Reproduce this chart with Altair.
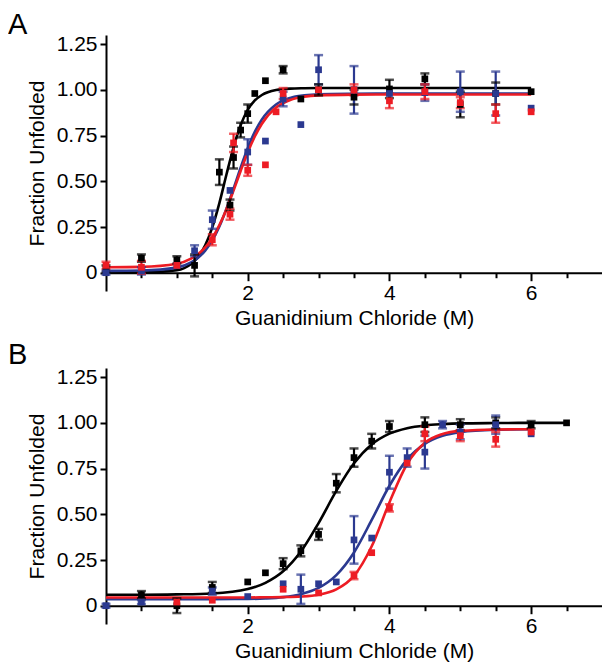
import altair as alt
import pandas as pd

# ---------------- Panel A data ----------------
A_black_x = [0, 0.5, 1.0, 1.25, 1.6, 1.75, 1.8, 1.9, 2.0, 2.1, 2.25, 2.5, 2.75, 3.0, 3.5, 4.0, 4.5, 5.0, 5.5, 6.0]
A_black_y = [0.02, 0.08, 0.07, 0.04, 0.55, 0.37, 0.63, 0.78, 0.87, 0.98, 1.05, 1.11, 0.95, 1.00, 0.96, 1.005, 1.06, 0.92, 0.98, 0.99]
A_black_e = [0.02, 0.02, 0.02, 0.06, 0.07, 0.03, 0.06, 0.04, 0.05, 0, 0, 0.02, 0, 0.03, 0.04, 0.05, 0.03, 0.07, 0.06, 0]

A_blue_x = [0, 0.5, 1.0, 1.25, 1.5, 1.75, 2.0, 2.25, 2.5, 2.75, 3.0, 3.5, 4.0, 4.5, 5.0, 5.5, 6.0]
A_blue_y = [0.00, 0.01, 0.04, 0.12, 0.29, 0.45, 0.66, 0.72, 0.95, 0.81, 1.11, 1.00, 0.98, 0.985, 0.99, 0.98, 0.90]
A_blue_e = [0.01, 0.02, 0, 0.03, 0.05, 0, 0.07, 0, 0.04, 0, 0.08, 0.13, 0, 0.045, 0.11, 0.12, 0]

A_red_x = [0, 0.5, 1.0, 1.5, 1.75, 1.8, 2.0, 2.25, 2.4, 2.5, 3.0, 3.5, 4.0, 4.5, 5.0, 5.5, 6.0]
A_red_y = [0.04, 0.03, 0.04, 0.18, 0.32, 0.71, 0.56, 0.59, 0.88, 0.98, 1.00, 1.00, 0.94, 0.99, 0.93, 0.87, 0.88]
A_red_e = [0.02, 0.035, 0, 0.03, 0.03, 0.05, 0.03, 0, 0, 0.03, 0, 0.03, 0.04, 0.04, 0.03, 0.05, 0]

# fitted curves of panel A
A_fit_x = [0, 0.5, 1.0, 1.2, 1.3, 1.4, 1.5, 1.6, 1.7, 1.8, 1.9, 2.0, 2.1, 2.2, 2.4, 2.6, 2.8, 3.0, 3.5, 4.0, 5.0, 6.0]
A_fit_black = [0.000, 0.001, 0.014, 0.048, 0.086, 0.150, 0.248, 0.381, 0.537, 0.686, 0.806, 0.890, 0.942, 0.972, 0.999, 1.007, 1.009, 1.010, 1.010, 1.010, 1.010, 1.010]
A_fit_blue = [0.010, 0.012, 0.028, 0.056, 0.082, 0.121, 0.177, 0.253, 0.350, 0.460, 0.575, 0.681, 0.770, 0.838, 0.920, 0.956, 0.970, 0.976, 0.979, 0.980, 0.980, 0.980]
A_fit_red = [0.030, 0.032, 0.049, 0.077, 0.102, 0.138, 0.190, 0.260, 0.347, 0.449, 0.556, 0.658, 0.745, 0.815, 0.903, 0.945, 0.963, 0.970, 0.974, 0.975, 0.975, 0.975]

# ---------------- Panel B data ----------------
B_black_x = [0.5, 1.0, 1.5, 2.0, 2.25, 2.5, 2.75, 3.0, 3.25, 3.5, 3.75, 4.0, 4.5, 5.0, 5.5, 6.0, 6.5]
B_black_y = [0.06, 0.00, 0.10, 0.13, 0.18, 0.23, 0.30, 0.39, 0.67, 0.81, 0.90, 0.98, 0.99, 0.99, 1.00, 0.99, 1.00]
B_black_e = [0.02, 0.04, 0.03, 0, 0, 0.03, 0.03, 0.03, 0.05, 0.05, 0.04, 0.03, 0.04, 0.03, 0.03, 0.02, 0]

B_blue_x = [0, 0.5, 1.5, 2.0, 2.5, 2.75, 3.0, 3.25, 3.5, 3.75, 4.0, 4.25, 4.5, 4.75, 5.0, 5.5, 6.0]
B_blue_y = [0.00, 0.02, 0.08, 0.05, 0.12, 0.09, 0.12, 0.13, 0.36, 0.37, 0.73, 0.81, 0.84, 0.99, 0.95, 0.99, 0.94]
B_blue_e = [0.01, 0.01, 0.02, 0, 0, 0.08, 0, 0, 0.13, 0, 0.09, 0.05, 0.09, 0.02, 0.04, 0.05, 0]

B_red_x = [1.0, 1.5, 2.5, 3.0, 3.5, 3.75, 4.0, 4.25, 4.5, 5.0, 5.5, 6.0]
B_red_y = [0.02, 0.03, 0.09, 0.07, 0.165, 0.29, 0.535, 0.78, 0.94, 0.93, 0.91, 0.95]
B_red_e = [0, 0, 0, 0, 0.02, 0, 0.02, 0, 0.04, 0.03, 0.04, 0]

B_fit_x_black = [0, 0.5, 1.0, 1.5, 2.0, 2.25, 2.5, 2.75, 3.0, 3.25, 3.5, 3.75, 4.0, 4.25, 4.5, 4.75, 5.0, 5.5, 6.0, 6.5]
B_fit_black = [0.060, 0.060, 0.062, 0.067, 0.091, 0.125, 0.188, 0.296, 0.452, 0.628, 0.779, 0.882, 0.941, 0.971, 0.986, 0.993, 0.997, 0.999, 1.000, 1.000]
B_fit_x = [0, 0.5, 1.0, 1.5, 2.0, 2.25, 2.5, 2.75, 3.0, 3.25, 3.5, 3.75, 4.0, 4.25, 4.5, 4.75, 5.0, 5.5, 6.0]
B_fit_blue = [0.035, 0.035, 0.035, 0.036, 0.037, 0.040, 0.047, 0.063, 0.097, 0.167, 0.291, 0.469, 0.656, 0.800, 0.885, 0.929, 0.949, 0.962, 0.965]
B_fit_red = [0.045, 0.045, 0.045, 0.045, 0.045, 0.046, 0.047, 0.050, 0.060, 0.089, 0.163, 0.325, 0.565, 0.775, 0.891, 0.939, 0.956, 0.964, 0.965]

SERIES = ["black", "blue", "red"]
COLORS = ["#000000", "#2b3990", "#ed1c24"]

X_TICKS = [0.5 * i for i in range(1, 14)]
Y_TICKS = [0, 0.25, 0.5, 0.75, 1.0, 1.25]

FONT = "Liberation Sans"
W, H = 496, 256
Y_DOM = [-0.1, 1.3]
X_OFFSET = -(H * 0.1 / 1.4)


def points_frame(groups):
    rows = []
    for name, xs, ys, es in groups:
        for x, y, e in zip(xs, ys, es):
            rows.append({"series": name, "x": x, "y": y, "lo": y - e, "hi": y + e, "e": e})
    return pd.DataFrame(rows)


def curve_frame(groups):
    rows = []
    for name, xs, ys in groups:
        for x, y in zip(xs, ys):
            rows.append({"series": name, "x": x, "y": y})
    return pd.DataFrame(rows)


def panel(pts, fits, letter, letter_y):
    xscale = alt.Scale(domain=[0, 7], nice=False, zero=False)
    yscale = alt.Scale(domain=Y_DOM, nice=False, zero=False)
    xaxis = alt.Axis(
        values=X_TICKS,
        labelExpr="datum.value % 2 === 0 ? format(datum.value, 'd') : ''",
        tickSize={"condition": {"test": "datum.value % 2 === 0", "value": 8}, "value": 5},
        offset=X_OFFSET,
        title="Guanidinium Chloride (M)",
        grid=False,
        labelFlush=False,
        labelOverlap=False,
        labelPadding=2,
        titlePadding=4,
    )
    yaxis = alt.Axis(
        values=Y_TICKS,
        labelExpr="datum.value === 0 ? '0' : format(datum.value, '.2f')",
        tickSize=6,
        title="Fraction Unfolded",
        grid=False,
        labelFlush=False,
        labelOverlap=False,
        labelPadding=3,
        titlePadding=9,
    )
    color = alt.Color("series:N", scale=alt.Scale(domain=SERIES, range=COLORS), legend=None)
    X = alt.X("x:Q", scale=xscale, axis=xaxis)
    Y = alt.Y("y:Q", scale=yscale, axis=yaxis)

    curves = alt.Chart(fits).mark_line(strokeWidth=2.6, interpolate="monotone").encode(
        x=X, y=Y, color=color, detail="series:N"
    )
    eb = alt.Chart(pts).transform_filter("datum.e > 0")
    rules = eb.mark_rule(strokeWidth=2.2).encode(
        x=X, y=alt.Y("lo:Q", scale=yscale, axis=yaxis), y2="hi:Q", color=color
    )
    cap_lo = eb.mark_tick(orient="horizontal", size=9, thickness=2.5).encode(
        x=X, y=alt.Y("lo:Q", scale=yscale, axis=yaxis), color=color
    )
    cap_hi = eb.mark_tick(orient="horizontal", size=9, thickness=2.5).encode(
        x=X, y=alt.Y("hi:Q", scale=yscale, axis=yaxis), color=color
    )
    squares = alt.Chart(pts).mark_square(size=45, opacity=1, filled=True).encode(
        x=X, y=Y, color=color
    )
    label = alt.Chart(pd.DataFrame({"t": [letter]})).mark_text(
        align="left", baseline="alphabetic", fontSize=29, font=FONT, color="black"
    ).encode(text="t:N", x=alt.value(-98), y=alt.value(letter_y))

    return alt.layer(curves, rules, cap_lo, cap_hi, squares, label).properties(width=W, height=H)


ptsA = points_frame([
    ("black", A_black_x, A_black_y, A_black_e),
    ("blue", A_blue_x, A_blue_y, A_blue_e),
    ("red", A_red_x, A_red_y, A_red_e),
])
fitA = curve_frame([
    ("black", A_fit_x, A_fit_black),
    ("blue", A_fit_x, A_fit_blue),
    ("red", A_fit_x, A_fit_red),
])
ptsB = points_frame([
    ("black", B_black_x, B_black_y, B_black_e),
    ("blue", B_blue_x, B_blue_y, B_blue_e),
    ("red", B_red_x, B_red_y, B_red_e),
])
fitB = curve_frame([
    ("black", B_fit_x_black, B_fit_black),
    ("blue", B_fit_x, B_fit_blue),
    ("red", B_fit_x, B_fit_red),
])

chart = alt.vconcat(
    panel(ptsA, fitA, "A", -1),
    panel(ptsB, fitB, "B", -4),
    spacing=77,
    bounds="flush",
).properties(
    padding={"left": 0, "top": 3, "right": 0, "bottom": 0}
).configure_view(stroke=None).configure_axis(
    labelFont=FONT,
    titleFont=FONT,
    labelFontSize=21,
    titleFontSize=21,
    titleFontWeight="normal",
    labelColor="black",
    titleColor="black",
    domainColor="black",
    tickColor="black",
    domainWidth=2,
    tickWidth=2,
)

chart.save("out.html", embed_options={"renderer": "svg", "actions": False})
